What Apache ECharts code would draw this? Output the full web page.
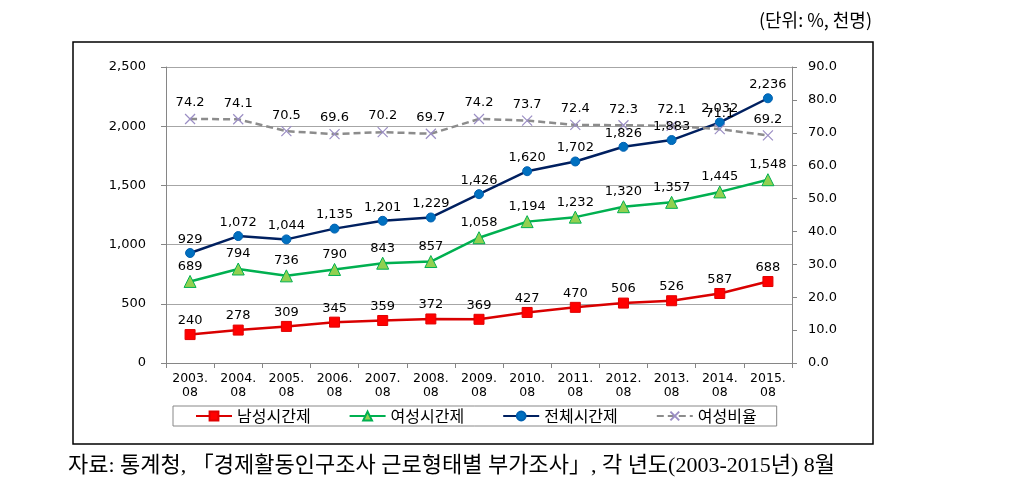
<!DOCTYPE html>
<html><head><meta charset="utf-8">
<script src="https://cdn.jsdelivr.net/npm/echarts@6/dist/echarts.min.js"></script>
<style>html,body{margin:0;padding:0;background:#fff}#c{width:1011px;height:499px}</style>
</head><body><div id="c"></div>
<script>
const categories = ['2003.\n08','2004.\n08','2005.\n08','2006.\n08','2007.\n08','2008.\n08','2009.\n08','2010.\n08','2011.\n08','2012.\n08','2013.\n08','2014.\n08','2015.\n08'];
const malePart = [240,278,309,345,359,372,369,427,470,506,526,587,688];
const femalePart = [689,794,736,790,843,857,1058,1194,1232,1320,1357,1445,1548];
const totalPart = [929,1072,1044,1135,1201,1229,1426,1620,1702,1826,1883,2032,2236];
const femaleRatio = [74.2,74.1,70.5,69.6,70.2,69.7,74.2,73.7,72.4,72.3,72.1,71.1,69.2];
const seriesNames = ['남성시간제','여성시간제','전체시간제','여성비율'];
const unitText = '(단위: %, 천명)';
const sourceText = '자료: 통계청, 「경제활동인구조사 근로형태별 부가조사」, 각 년도(2003-2015년) 8월';

const numFont = 'DejaVu Sans';
const comma = v => Number(v).toLocaleString('en-US');
const labelBase = {show:true, position:'top', distance:2, color:'#000', fontFamily:numFont, fontSize:13};
const chart = echarts.init(document.getElementById('c'));
chart.setOption({
  animation:false,
  graphic:[
    {type:'rect', shape:{x:73,y:42,width:800,height:402}, style:{fill:'none',stroke:'#000',lineWidth:1.5}, z:-1},
    {type:'text', right:139, top:11, style:{text:unitText, font:'18px "Noto Sans CJK KR"', fill:'#000'}},
    {type:'text', left:68, top:455, style:{text:sourceText, font:'22px "Liberation Serif","Noto Sans CJK KR"', fill:'#000'}}
  ],
  grid:{left:166, right:219, top:67, bottom:136},
  legend:{
    left:173, top:406,
    borderColor:'#888', borderWidth:1, padding:[2,20,2,22],
    itemGap:38, itemWidth:36, itemHeight:11,
    textStyle:{fontFamily:'Noto Sans CJK KR', fontSize:16, color:'#000'},
    data:seriesNames
  },
  xAxis:{
    type:'category', data:categories, boundaryGap:true,
    axisLine:{lineStyle:{color:'#868686'}},
    axisTick:{show:true, length:5, lineStyle:{color:'#868686'}},
    axisLabel:{color:'#000', fontFamily:numFont, fontSize:12.5, lineHeight:14, margin:9, interval:0}
  },
  yAxis:[
    {type:'value', min:0, max:2500, interval:500,
     axisLine:{show:true, lineStyle:{color:'#868686'}},
     axisTick:{show:true, length:5, lineStyle:{color:'#868686'}},
     splitLine:{lineStyle:{color:'#a6a6a6'}},
     axisLabel:{color:'#000', fontFamily:numFont, fontSize:13, margin:20, formatter:v=>comma(v)}},
    {type:'value', min:0, max:90, interval:10, position:'right',
     axisLine:{show:true, lineStyle:{color:'#868686'}},
     axisTick:{show:true, length:5, lineStyle:{color:'#868686'}},
     splitLine:{show:false},
     axisLabel:{color:'#000', fontFamily:numFont, fontSize:13, margin:16, formatter:v=>v.toFixed(1)}}
  ],
  series:[
    {name:seriesNames[0], type:'line', data:malePart, yAxisIndex:0,
     symbol:'rect', symbolSize:10,
     lineStyle:{color:'#d90000', width:2.5},
     itemStyle:{color:'#ff0000', borderColor:'#e00000', borderWidth:1},
     label:Object.assign({}, labelBase, {formatter:p=>comma(p.value)})},
    {name:seriesNames[1], type:'line', data:femalePart, yAxisIndex:0,
     symbol:'triangle', symbolSize:12,
     lineStyle:{color:'#00b050', width:2.5},
     itemStyle:{color:'#92d050', borderColor:'#00b050', borderWidth:1},
     label:Object.assign({}, labelBase, {formatter:p=>comma(p.value)})},
    {name:seriesNames[2], type:'line', data:totalPart, yAxisIndex:0,
     symbol:'circle', symbolSize:9,
     lineStyle:{color:'#002060', width:2.5},
     itemStyle:{color:'#0070c0', borderColor:'#0060b0', borderWidth:1},
     label:Object.assign({}, labelBase, {formatter:p=>comma(p.value)})},
    {name:seriesNames[3], type:'line', data:femaleRatio, yAxisIndex:1,
     symbol:'path://M0,0L10,10M10,0L0,10', symbolSize:10,
     lineStyle:{color:'#8c8c8c', width:2.5, type:[7,4]},
     itemStyle:{color:'none', borderColor:'#9b8ec4', borderWidth:1.2},
     label:Object.assign({}, labelBase, {formatter:p=>p.value.toFixed(1)})}
  ]
});
</script></body></html>
